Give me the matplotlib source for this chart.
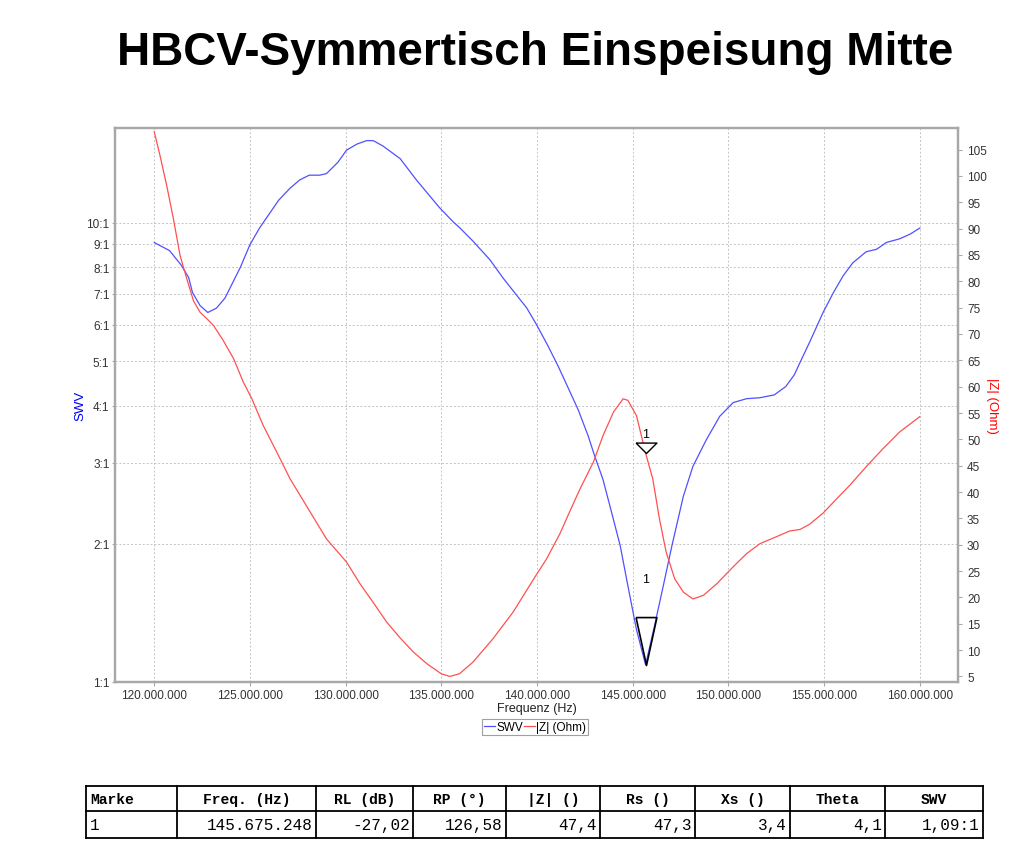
import matplotlib
matplotlib.use("Agg")
import matplotlib.pyplot as plt
from matplotlib.path import Path
from matplotlib.ticker import FixedLocator, FuncFormatter, NullLocator

# SWV curve (frequency in MHz, SWR value)
swv_freq = [120.0, 120.8, 121.4, 121.8, 122.0, 122.4, 122.8, 123.25, 123.7, 124.5,
            125.0, 125.5, 126.5, 127.1, 127.6, 128.1, 128.65, 129.0, 129.6, 130.05,
            130.6, 131.1, 131.45, 131.95, 132.85, 133.7, 134.9, 135.6, 135.98, 136.67,
            137.54, 138.23, 138.85, 139.46, 139.98, 140.59, 141.11, 141.63, 142.15, 142.68,
            143.0, 143.45, 143.9, 144.35, 144.75, 145.2, 145.675, 146.15, 146.6, 147.05,
            147.65, 148.15, 148.85, 149.55, 150.25, 150.95, 151.65, 152.4, 153.0, 153.45,
            153.75, 154.25, 154.95, 155.5, 156.0, 156.5, 157.2, 157.75, 158.25, 158.95,
            159.5, 160.0]
swv_vals = [9.06, 8.7, 8.1, 7.6, 7.05, 6.6, 6.38, 6.52, 6.86, 8.0,
            8.96, 9.74, 11.2, 11.9, 12.4, 12.7, 12.7, 12.8, 13.55, 14.4,
            14.85, 15.1, 15.1, 14.7, 13.8, 12.4, 10.8, 10.07, 9.74, 9.11,
            8.31, 7.58, 7.03, 6.53, 6.0, 5.38, 4.87, 4.37, 3.92, 3.43,
            3.12, 2.76, 2.34, 1.98, 1.62, 1.30, 1.09, 1.33, 1.62, 1.98,
            2.54, 2.95, 3.37, 3.79, 4.06, 4.14, 4.16, 4.22, 4.4, 4.67,
            4.97, 5.5, 6.38, 7.06, 7.67, 8.18, 8.65, 8.76, 9.06, 9.23,
            9.45, 9.74]

# |Z| curve (frequency in MHz, Ohm)
z_freq = [120.0, 120.3, 120.65, 121.0, 121.35, 121.7, 122.05, 122.4, 122.75, 123.1,
          123.6, 124.15, 124.65, 125.1, 125.7, 126.4, 127.1, 127.95, 129.0, 130.05,
          130.75, 131.45, 132.15, 132.85, 133.55, 134.25, 135.0, 135.45, 135.95, 136.65,
          137.7, 138.75, 139.95, 140.5, 141.2, 141.7, 142.25, 142.95, 143.45, 144.0,
          144.5, 144.75, 145.2, 145.675, 146.05, 146.4, 146.75, 147.2, 147.65, 148.15,
          148.7, 149.4, 150.25, 150.95, 151.65, 152.5, 153.2, 153.75, 154.25, 154.95,
          155.5, 156.35, 157.2, 158.1, 158.95, 160.0]
z_vals = [108.4, 103.9, 98.2, 91.9, 84.9, 80.5, 76.3, 74.1, 72.9, 71.6,
          68.8, 65.3, 60.9, 57.7, 52.6, 47.6, 42.5, 37.4, 31.1, 26.7,
          22.6, 19.0, 15.3, 12.3, 9.6, 7.4, 5.5, 5.0, 5.5, 7.7,
          12.15, 17.2, 24.2, 27.3, 32.1, 36.2, 40.6, 45.7, 50.7, 55.2,
          57.7, 57.4, 54.5, 47.4, 42.5, 34.9, 28.6, 23.5, 21.0, 19.7,
          20.4, 22.6, 25.8, 28.3, 30.2, 31.5, 32.6, 32.9, 33.9, 36.0,
          38.1, 41.3, 44.8, 48.3, 51.4, 54.3]

marker_freq = 145.675248
marker_swv = 1.09
marker_z = 47.4

swv_ticks = [1, 2, 3, 4, 5, 6, 7, 8, 9, 10]
z_ticks = list(range(5, 110, 5))
freq_ticks = [120, 125, 130, 135, 140, 145, 150, 155, 160]

table_head = ["Marke", "Freq. (Hz)", "RL (dB)", "RP (°)", "|Z| ()", "Rs ()", "Xs ()", "Theta", "SWV"]
table_row = ["1", "145.675.248", "-27,02", "126,58", "47,4", "47,3", "3,4", "4,1", "1,09:1"]

blue = "#5050ff"
red = "#ff5050"
grey = "#a8a8a8"
tick_col = "#333333"

plt.rcParams['font.family'] = ['Liberation Sans', 'DejaVu Sans']

fig = plt.figure(figsize=(10.27, 8.62), dpi=100)
ax = fig.add_axes([115 / 1027, 1 - 683 / 862, 843 / 1027, 554 / 862])
ax2 = ax.twinx()

hz = lambda lst: [f * 1e6 for f in lst]

l1, = ax.plot(hz(swv_freq), swv_vals, color=blue, lw=0.9, zorder=3)
l2, = ax2.plot(hz(z_freq), z_vals, color=red, lw=0.9, zorder=3)

# marker triangles (tip on the curve)
small_tri = Path([(-1, 1), (1, 1), (0, 0), (-1, 1)])
big_tri = Path([(-1, 4.6), (1, 4.6), (0, 0), (-1, 4.6)])
ax2.plot([marker_freq * 1e6], [marker_z], marker=small_tri, ms=15, mfc='white',
         mec='black', mew=1, zorder=5)
ax2.annotate("1", (marker_freq * 1e6, marker_z), xytext=(0, 13), textcoords='offset pixels',
             ha='center', va='bottom', fontsize=9)
ax2.plot([marker_freq * 1e6], [marker_swv], marker=big_tri, ms=69, mfc='none',
         mec='black', mew=1.2, zorder=5, transform=ax.transData)
ax.annotate("1", (marker_freq * 1e6, marker_swv), xytext=(0, 80), textcoords='offset pixels',
            ha='center', va='bottom', fontsize=9, zorder=6)

ax.set_xlim(117.95e6, 162.0e6)
ax.set_yscale('log')
ax.set_ylim(1, 16.09)
ax.yaxis.set_major_locator(FixedLocator(swv_ticks))
ax.yaxis.set_minor_locator(NullLocator())
ax.yaxis.set_major_formatter(FuncFormatter(lambda v, p: f"{int(round(v))}:1"))
ax.xaxis.set_major_locator(FixedLocator([f * 1e6 for f in freq_ticks]))
ax.xaxis.set_major_formatter(FuncFormatter(lambda v, p: f"{int(round(v)):,}".replace(",", ".")))

ax2.set_ylim(3.94, 109.1)
ax2.yaxis.set_major_locator(FixedLocator(z_ticks))

ax.grid(True, which='major', color='#c4c4c4', ls=(0, (2, 2)), lw=0.7)
ax.set_axisbelow(True)

for a in (ax, ax2):
    for s in a.spines.values():
        s.set_color(grey)
        s.set_linewidth(1.6)
    a.tick_params(labelsize=8.5, labelcolor=tick_col, color=grey, length=3, width=0.8)
ax.tick_params(axis='x', pad=2)
ax.tick_params(axis='y', length=2, pad=2)

ax.set_ylabel("SWV", color='blue', fontsize=9.5, labelpad=0)
ax2.set_ylabel("|Z| (Ohm)", color='red', fontsize=9.5, rotation=270, labelpad=8)
ax.set_xlabel("Frequenz (Hz)", fontsize=9, color='#222222', labelpad=1)

leg = fig.legend([l1, l2], ["SWV", "|Z| (Ohm)"], loc='center', bbox_to_anchor=(535 / 1027, 1 - 728 / 862),
                 ncol=2, fontsize=8.5, handlelength=0.9, handletextpad=0.1, columnspacing=0.1,
                 frameon=True, fancybox=False, borderpad=0.2, borderaxespad=0)
leg.get_frame().set_edgecolor('#888888')
leg.get_frame().set_linewidth(0.8)

fig.text(535 / 1027, 1 - 53 / 862, "HBCV-Symmertisch Einspeisung Mitte", ha='center', va='center',
         fontsize=33, fontweight='bold', color='black')

# data table below the chart
tab = fig.add_axes([0, 0, 1, 1], facecolor='none')
tab.set_xlim(0, 1027)
tab.set_ylim(862, 0)
tab.axis('off')
col_edges = [86, 177, 316, 413, 506, 600, 695, 790, 885, 983]
row_edges = [787, 812, 839]
for yy in row_edges:
    tab.plot([col_edges[0], col_edges[-1]], [yy, yy], color='black', lw=1.3)
for xx in col_edges:
    tab.plot([xx, xx], [row_edges[0], row_edges[-1]], color='black', lw=1.3)
for i, (h, d) in enumerate(zip(table_head, table_row)):
    x0, x1 = col_edges[i], col_edges[i + 1]
    if i == 0:
        tab.text(x0 + 4, 800, h, ha='left', va='center', family='Liberation Mono',
                 fontweight='bold', fontsize=10.5)
        tab.text(x0 + 4, 826, d, ha='left', va='center', family='Liberation Mono', fontsize=11.5)
    else:
        tab.text((x0 + x1) / 2, 800, h, ha='center', va='center', family='Liberation Mono',
                 fontweight='bold', fontsize=10.5)
        tab.text(x1 - 3, 826, d, ha='right', va='center', family='Liberation Mono', fontsize=11.5)

fig.savefig("out.png", dpi=100)
